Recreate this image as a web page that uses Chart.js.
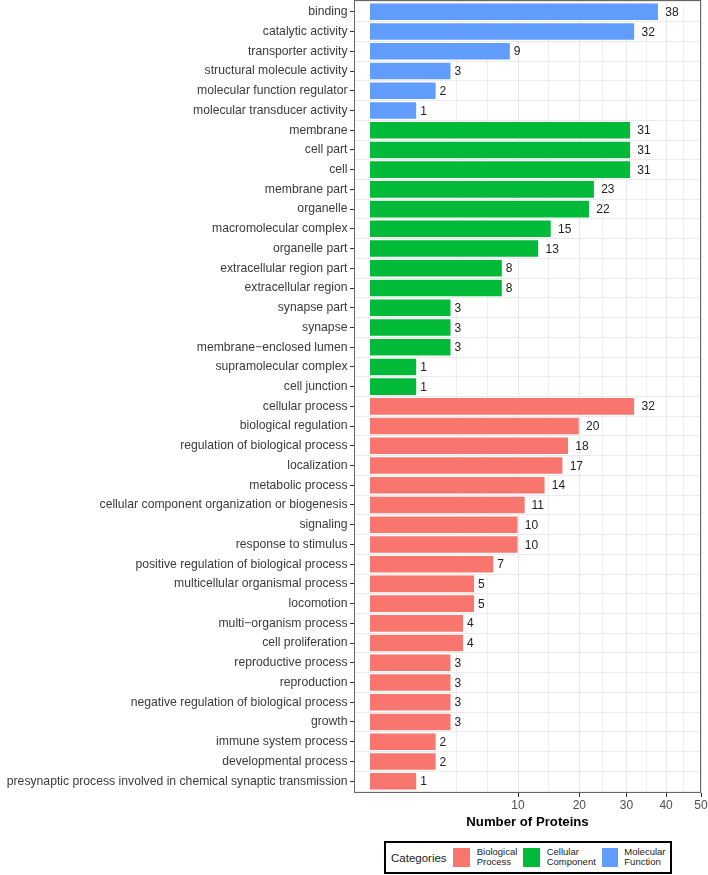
<!DOCTYPE html>
<html>
<head>
<meta charset="utf-8">
<script src="https://cdn.jsdelivr.net/npm/chart.js@4.4.1/dist/chart.umd.min.js"></script>
<style>
html, body { margin: 0; padding: 0; background: #ffffff; }
#wrap { position: relative; width: 708px; height: 875px; font-family: "Liberation Sans", Arial, sans-serif; }
#c { display: block; }
#legend { position: absolute; left: 383.5px; top: 841px; width: 288px; height: 33px; border: 2px solid #000; box-sizing: border-box; background: #fff; color: #1a1a1a; }
#legend .lt { position: absolute; left: 5.5px; top: 8.3px; font-size: 11.5px; line-height: 14px; white-space: nowrap; }
#legend .sw { position: absolute; top: 5.3px; width: 16.7px; height: 18.3px; }
#legend .lb { position: absolute; top: 4.3px; font-size: 9.5px; line-height: 10px; white-space: nowrap; }
</style>
</head>
<body>
<div id="wrap">
  <canvas id="c" width="708" height="875"></canvas>
  <div id="legend"></div>
</div>
<script>
// ---------------- data ----------------
const mfTerms = ['binding', 'catalytic activity', 'transporter activity', 'structural molecule activity',
  'molecular function regulator', 'molecular transducer activity'];
const mfCounts = [38, 32, 9, 3, 2, 1];

const ccTerms = ['membrane', 'cell part', 'cell', 'membrane part', 'organelle', 'macromolecular complex',
  'organelle part', 'extracellular region part', 'extracellular region', 'synapse part', 'synapse',
  'membrane\u2212enclosed lumen', 'supramolecular complex', 'cell junction'];
const ccCounts = [31, 31, 31, 23, 22, 15, 13, 8, 8, 3, 3, 3, 1, 1];

const bpTerms = ['cellular process', 'biological regulation', 'regulation of biological process', 'localization',
  'metabolic process', 'cellular component organization or biogenesis', 'signaling', 'response to stimulus',
  'positive regulation of biological process', 'multicellular organismal process', 'locomotion',
  'multi\u2212organism process', 'cell proliferation', 'reproductive process', 'reproduction',
  'negative regulation of biological process', 'growth', 'immune system process', 'developmental process',
  'presynaptic process involved in chemical synaptic transmission'];
const bpCounts = [32, 20, 18, 17, 14, 11, 10, 10, 7, 5, 5, 4, 4, 3, 3, 3, 3, 2, 2, 1];

const xTickValues = [10, 20, 30, 40, 50];
const xTitle = 'Number of Proteins';
const legendTitle = 'Categories';
const legendNames = ['Biological Process', 'Cellular Component', 'Molecular Function'];
const legendColors = ['#F8766D', '#00BA38', '#619CFF'];

// ---------------- derived ----------------
const groups = [
  { name: 'Molecular Function', terms: mfTerms, counts: mfCounts, color: '#619CFF' },
  { name: 'Cellular Component', terms: ccTerms, counts: ccCounts, color: '#00BA38' },
  { name: 'Biological Process', terms: bpTerms, counts: bpCounts, color: '#F8766D' }
];
const allTerms = [].concat(mfTerms, ccTerms, bpTerms);
const N = allTerms.length;

const sgnSqrt = v => v < 0 ? -Math.sqrt(-v) : Math.sqrt(v);
// minor breaks like ggplot: midpoints in sqrt space (with one extra step below the first major)
const sMaj = xTickValues.map(Math.sqrt);
const sExt = [sMaj[0] - (sMaj[1] - sMaj[0])].concat(sMaj);
const xMinor = [sExt[0] * sExt[0]];
for (let i = 0; i < sExt.length - 1; i++) { const m = (sExt[i] + sExt[i + 1]) / 2; xMinor.push(m * m); }
const xAllTicks = xMinor.concat(xTickValues).sort((a, b) => a - b);
const isMajor = v => xTickValues.some(t => Math.abs(t - v) < 1e-9);
const tickVal = c => (c && c.tick && typeof c.tick.value === 'number') ? c.tick.value : null;

// ---------------- sqrt scale ----------------
class SqrtScale extends Chart.LinearScale {
  static id = 'sqrt';
  static defaults = {};
  configure() {
    super.configure();
    this._s0 = sgnSqrt(this.min);
    this._s1 = sgnSqrt(this.max);
  }
  getPixelForValue(v) {
    if (v === null || v === undefined || isNaN(v)) return NaN;
    return this.getPixelForDecimal((sgnSqrt(v) - this._s0) / (this._s1 - this._s0));
  }
  getValueForPixel(p) {
    const s = this._s0 + this.getDecimalForPixel(p) * (this._s1 - this._s0);
    return s < 0 ? -s * s : s * s;
  }
}
Chart.register(SqrtScale);

const FONT = '"Liberation Sans", Arial, sans-serif';

let offset = 0;
const datasets = groups.map(g => {
  const start = offset;
  offset += g.terms.length;
  return {
    label: g.name,
    data: g.counts.map((c, i) => ({ x: c, y: start + i })),
    backgroundColor: g.color,
    borderColor: 'rgba(255,255,255,0.9)',
    borderWidth: 0.6,
    barPercentage: 0.9,
    categoryPercentage: 1.0,
    grouped: false,
    yAxisID: 'y'
  };
});

const panelPlugin = {
  id: 'panelExtras',
  afterDatasetsDraw(chart) {
    const ctx = chart.ctx;
    const a = chart.chartArea;
    ctx.save();
    ctx.font = '12px ' + FONT;
    ctx.fillStyle = '#222';
    ctx.textBaseline = 'middle';
    ctx.textAlign = 'left';
    chart.data.datasets.forEach((ds, di) => {
      chart.getDatasetMeta(di).data.forEach((bar, i) => {
        const t = String(ds.data[i].x);
        const w = ctx.measureText(t).width;
        ctx.fillText(t, bar.x + w * 0.5, bar.y + 0.8);
      });
    });
    ctx.strokeStyle = '#666';
    ctx.lineWidth = 1;
    ctx.strokeRect(a.left + 0.5, a.top + 0.5, a.right - a.left - 1, a.bottom - a.top - 1);
    ctx.restore();
  }
};

const yRange = { min: -0.6, max: N - 1 + 0.6 };

try {
new Chart(document.getElementById('c'), {
  type: 'bar',
  data: { datasets },
  plugins: [panelPlugin],
  options: {
    indexAxis: 'y',
    responsive: false,
    animation: false,
    layout: { padding: { top: 0, right: 7, bottom: 0, left: 0 } },
    plugins: { legend: { display: false }, tooltip: { enabled: false } },
    scales: {
      x: {
        type: 'sqrt',
        position: 'bottom',
        min: -0.117,
        max: 50,
        bounds: 'data',
        offset: false,
        afterBuildTicks: s => { s.ticks = xAllTicks.map(v => ({ value: v })); },
        afterFit: s => { s.height = 82; s.paddingLeft = 0; s.paddingRight = 0; },
        grid: {
          offset: false,
          color: c => { const v = tickVal(c); return v === null ? 'rgba(0,0,0,0)' : (isMajor(v) ? '#E6E6E6' : '#EEEEEE'); },
          lineWidth: 1,
          drawTicks: true,
          tickLength: 4,
          tickColor: c => { const v = tickVal(c); return (v !== null && isMajor(v)) ? '#333' : 'rgba(0,0,0,0)'; },
          tickWidth: 1
        },
        border: { display: false },
        ticks: {
          autoSkip: false, maxRotation: 0, minRotation: 0, padding: 1,
          color: '#4D4D4D', font: { family: FONT, size: 12 },
          callback: v => isMajor(v) ? String(v) : ''
        },
        title: {
          display: true, text: xTitle, color: '#000',
          font: { family: FONT, size: 13.2, weight: 'bold' },
          padding: { top: 4, bottom: 45 }
        }
      },
      // category rows: labels and tick marks at row centres
      y: {
        type: 'linear',
        position: 'left',
        reverse: true,
        offset: false,
        min: yRange.min,
        max: yRange.max,
        bounds: 'data',
        weight: 1,
        afterBuildTicks: s => { const t = []; for (let k = 0; k < N; k++) t.push({ value: k }); s.ticks = t; },
        afterFit: s => { s.width = 354; s.paddingTop = 0; s.paddingBottom = 0; },
        grid: {
          offset: false,
          drawOnChartArea: false,
          drawTicks: true,
          tickLength: 4,
          tickColor: '#333',
          tickWidth: 1
        },
        border: { display: false },
        ticks: {
          autoSkip: false, padding: 2.5,
          color: '#3a3a3a', font: { family: FONT, size: 12.2 },
          callback: v => (Number.isInteger(v) && v >= 0 && v < N) ? allTerms[v] : ''
        }
      },
      // row boundaries: light grid lines between bars
      yGrid: {
        type: 'linear',
        position: 'left',
        reverse: true,
        offset: false,
        min: yRange.min,
        max: yRange.max,
        bounds: 'data',
        weight: 0,
        afterBuildTicks: s => { const t = []; for (let k = 0; k <= N; k++) t.push({ value: k - 0.5 }); s.ticks = t; },
        afterFit: s => { s.width = 0; s.paddingTop = 0; s.paddingBottom = 0; },
        grid: { offset: false, color: '#EBEBEB', lineWidth: 1, drawTicks: false },
        border: { display: false },
        ticks: { display: false }
      }
    }
  }
});
} catch (e) { console.error(e); }

// ---------------- legend (HTML text) ----------------
const lg = document.getElementById('legend');
const t = document.createElement('div');
t.className = 'lt'; t.textContent = legendTitle; lg.appendChild(t);
const swLeft = [67.8, 137.8, 216.2];
const lbLeft = [91.2, 161.2, 238.8];
legendNames.forEach((n, i) => {
  const sw = document.createElement('div');
  sw.className = 'sw'; sw.style.left = swLeft[i] + 'px'; sw.style.background = legendColors[i];
  lg.appendChild(sw);
  const lb = document.createElement('div');
  lb.className = 'lb'; lb.style.left = lbLeft[i] + 'px';
  lb.innerHTML = n.split(' ').join('<br>');
  lg.appendChild(lb);
});
</script>
</body>
</html>
